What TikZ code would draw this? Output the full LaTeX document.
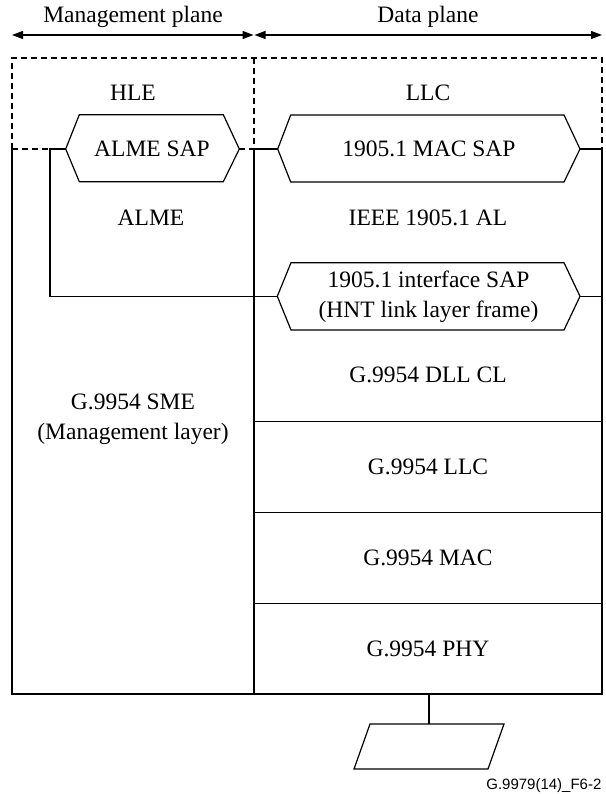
\documentclass[tikz,border=0pt]{standalone}
\usepackage{fontspec}
\setmainfont{Liberation Serif}
\newfontfamily\labelfont{Liberation Sans}
\usetikzlibrary{arrows.meta}
\begin{document}
\begin{tikzpicture}[x=1pt,y=-1pt,
  line width=1.2pt,
  lbl/.style={font=\fontsize{23.5}{30}\selectfont, align=center, inner sep=0pt},
  dsh/.style={dash pattern=on 6pt off 4pt},
  dbl/.style={{Triangle[length=11pt,width=8pt]}-{Triangle[length=11pt,width=8pt]}},
  hexa/.style={line join=miter}]
\useasboundingbox (0,0) rectangle (605,794);
% plane labels and arrows
\node[lbl] (mp) at (133,17) {Management plane};
\node[lbl] (dp) at (428,17) {Data plane};
\coordinate (a1) at (12,35); \coordinate (a2) at (253.5,35);
\coordinate (a3) at (254.5,35); \coordinate (a4) at (602,35);
\draw[dbl] (a1) -- (a2);
\draw[dbl] (a3) -- (a4);
% dashed upper region
\draw[dsh] (12,149) -- (12,58) -- (602,58) -- (602,149);
\draw[dsh] (254,58) -- (254,149);
\draw[dsh] (12,149) -- (50,149);
\draw[dsh] (239.3,149) -- (254,149);
\node[lbl] (hle) at (133,93) {HLE};
\node[lbl] (llc) at (428,93) {LLC};
% hexagons
\draw[hexa] (65.7,149) -- (79.3,114.7) -- (223.3,114.7) -- (239.3,149) -- (223.3,181.7) -- (79.3,181.7) -- cycle;
\node[lbl] (almesap) at (152,149) {ALME SAP};
\draw[hexa] (277.7,149) -- (290.7,115) -- (564,115) -- (580,149) -- (564,182) -- (290.7,182) -- cycle;
\node[lbl] (macsap) at (429,149) {1905.1 MAC SAP};
\draw[hexa] (277.3,296.3) -- (291,262.7) -- (564,262.7) -- (580,296.3) -- (564,330) -- (291,330) -- cycle;
\node[lbl] (ifsap) at (428.5,296.3) {1905.1 interface SAP\\(HNT link layer frame)};
% solid frame
\draw (12,149) -- (12,694) -- (602,694) -- (602,149) -- (580,149);
\draw (254,149) -- (254,694);
\draw (254,149) -- (277.7,149);
\draw (65.7,149) -- (50,149) -- (50,296.3) -- (277.3,296.3);
\draw (580,296.3) -- (602,296.3);
\draw (254,421.5) -- (602,421.5);
\draw (254,512.5) -- (602,512.5);
\draw (254,603.5) -- (602,603.5);
% texts
\node[lbl] (alme) at (151,218) {ALME};
\node[lbl] (al) at (428,218) {IEEE 1905.1 AL};
\node[lbl] (dll) at (428,375) {G.9954 DLL CL};
\node[lbl] (sme) at (133,419) {G.9954 SME\\(Management layer)};
\node[lbl] (gllc) at (428,467) {G.9954 LLC};
\node[lbl] (gmac) at (428,558) {G.9954 MAC};
\node[lbl] (gphy) at (428,649) {G.9954 PHY};
% medium
\coordinate (st) at (429,694);
\coordinate (sb) at (429,724);
\draw (st) -- (sb);
\draw[hexa] (370,724) -- (504,724) -- (488,769) -- (354,769) -- cycle;
\node[font=\labelfont\fontsize{15}{18}\selectfont, anchor=east, inner sep=0pt] (fig) at (602,786) {G.9979(14)\_F6-2};
\end{tikzpicture}
\end{document}
